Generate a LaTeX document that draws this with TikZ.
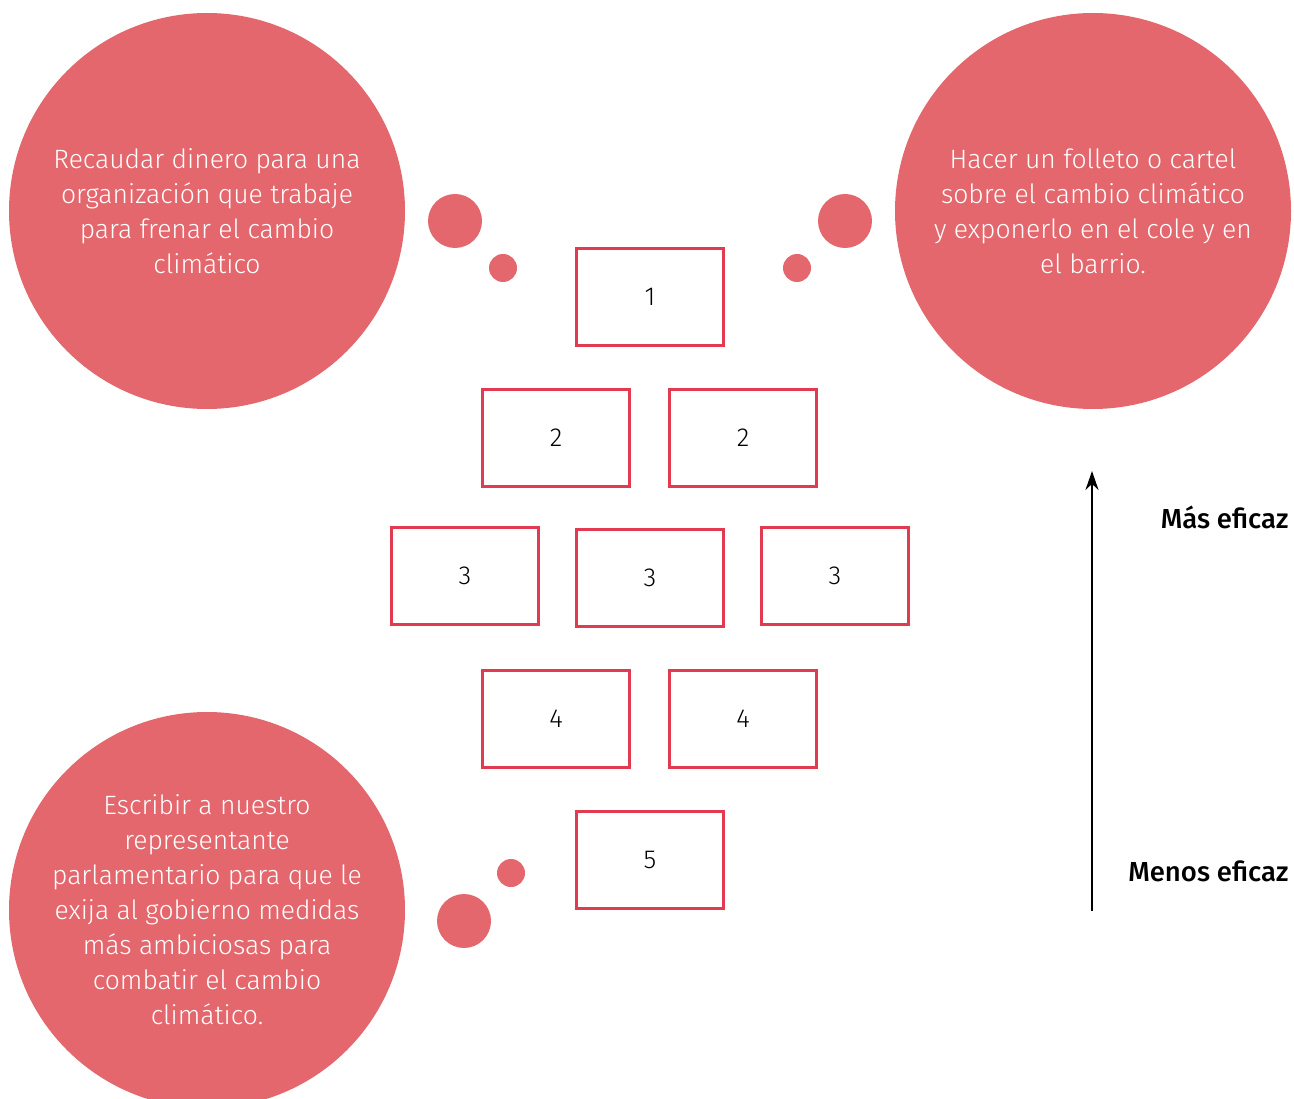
\documentclass[tikz,border=0pt]{standalone}
\usepackage{fontspec}
\setmainfont{Fira Sans Light}[BoldFont={Fira Sans Medium}]
\usetikzlibrary{arrows.meta}
\definecolor{bubblered}{HTML}{E3676D}
\definecolor{boxred}{HTML}{E23A50}

\begin{document}
\begin{tikzpicture}[x=1pt, y=-1pt,
  bubble/.style={circle, fill=bubblered, draw=none, inner sep=0pt},
  idea/.style={bubble, minimum size=396pt, text=white, align=center,
    font=\fontsize{26.5}{35}\selectfont},
  rank/.style={draw=boxred, line width=2.5pt, minimum width=147pt,
    minimum height=97pt, font=\fontsize{26}{30}\selectfont},
  scale label/.style={anchor=east, font=\fontsize{27.5}{30}\selectfont\bfseries}]

\useasboundingbox (0,0) rectangle (1294,1099);

% ideas
\begin{scope}
\clip (0,0) rectangle (1294,1099);
\node[idea] (idea-money) at (207,211)
  {Recaudar dinero para una\\organización que trabaje\\para frenar el cambio\\climático};
\node[idea] (idea-poster) at (1093,211)
  {Hacer un folleto o cartel\\sobre el cambio climático\\y exponerlo en el cole y en\\el barrio.};
\node[idea] (idea-letter) at (207,910)
  {Escribir a nuestro\\representante\\parlamentario para que le\\exija al gobierno medidas\\más ambiciosas para\\combatir el cambio\\climático.};
\end{scope}

% thought dots
\node[bubble, minimum size=54pt] (dot-money-a) at (455,221) {};
\node[bubble, minimum size=28pt] (dot-money-b) at (503,268) {};
\node[bubble, minimum size=54pt] (dot-poster-a) at (845,221) {};
\node[bubble, minimum size=28pt] (dot-poster-b) at (797,268) {};
\node[bubble, minimum size=54pt] (dot-letter-a) at (464,921) {};
\node[bubble, minimum size=28pt] (dot-letter-b) at (511,873) {};

% ranking boxes
\node[rank] (r1) at (650,297) {1};
\node[rank] (r2-L) at (556,438) {2};
\node[rank] (r2-R) at (743,438) {2};
\node[rank] (r3-L) at (465,576) {3};
\node[rank] (r3-M) at (650,578) {3};
\node[rank] (r3-R) at (835,576) {3};
\node[rank] (r4-L) at (556,719) {4};
\node[rank] (r4-R) at (743,719) {4};
\node[rank] (r5) at (650,860) {5};

% scale
\coordinate (scale-low) at (1092,911);
\coordinate (scale-high) at (1092,471);
\draw[line width=2.6pt, -{Stealth[length=19pt, width=13pt]}] (scale-low) -- (scale-high);
\node[scale label] (more) at (1292,517) {Más eficaz};
\node[scale label] (less) at (1292,871) {Menos eficaz};

\end{tikzpicture}
\end{document}
